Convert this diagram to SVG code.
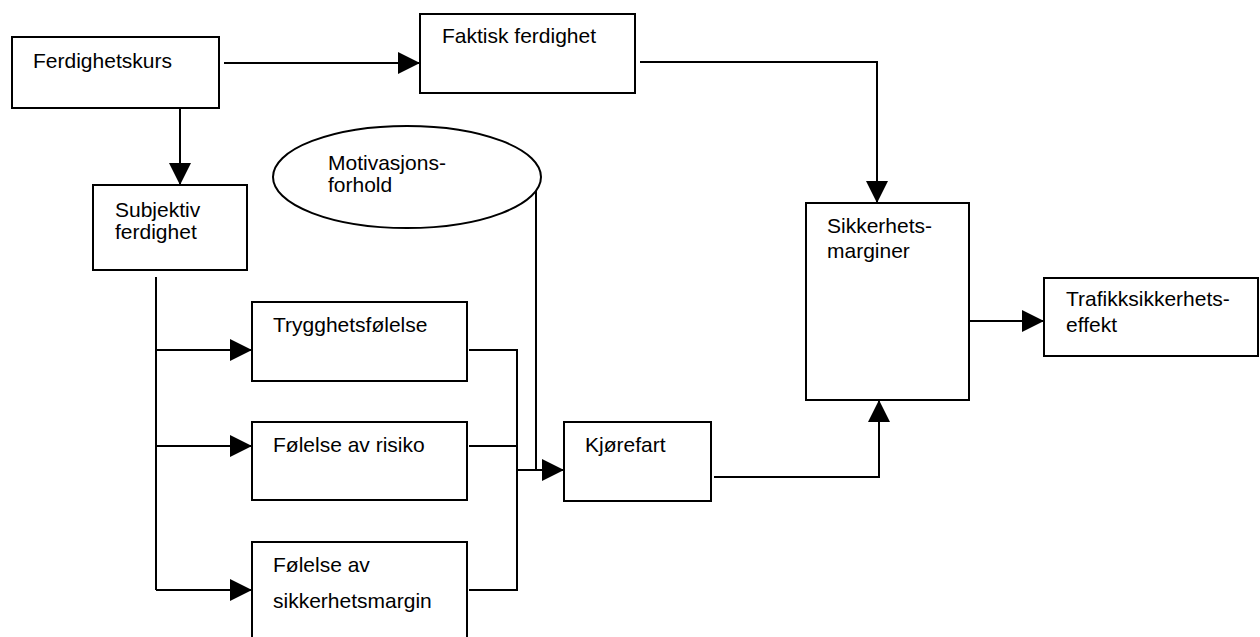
<svg xmlns="http://www.w3.org/2000/svg" width="1260" height="637" viewBox="0 0 1260 637">
<style>
.box{fill:#fff;stroke:#000;stroke-width:2}
.t{font-family:"Liberation Sans",Arial,sans-serif;font-size:21px;fill:#000}
.c{fill:none;stroke:#000;stroke-width:2}
</style>
<defs>
<marker id="ah" viewBox="0 0 22 22" refX="22" refY="11" markerWidth="22" markerHeight="22" markerUnits="userSpaceOnUse" orient="auto">
<path d="M0,0 L22,11 L0,22 Z" fill="#000"/>
</marker>
</defs>
<rect width="1260" height="637" fill="#fff"/>
<g id="connectors">
<path class="c" d="M224,63 H420" marker-end="url(#ah)"/>
<path class="c" d="M180,108 V185" marker-end="url(#ah)"/>
<path class="c" d="M640,62 H877 V203" marker-end="url(#ah)"/>
<path class="c" d="M156,277 V590"/>
<path class="c" d="M156,350 H252" marker-end="url(#ah)"/>
<path class="c" d="M156,446 H252" marker-end="url(#ah)"/>
<path class="c" d="M156,590 H252" marker-end="url(#ah)"/>
<path class="c" d="M469,350 H517 V590 H469"/>
<path class="c" d="M469,446 H517"/>
<path class="c" d="M536,188 V470"/>
<path class="c" d="M517,470 H564" marker-end="url(#ah)"/>
<path class="c" d="M714,477 H879 V400" marker-end="url(#ah)"/>
<path class="c" d="M970,321 H1044" marker-end="url(#ah)"/>
</g>
<g id="ferdighetskurs">
<rect class="box" x="12" y="37" width="207" height="71"/>
<text class="t" x="33" y="68">Ferdighetskurs</text>
</g>
<g id="faktisk">
<rect class="box" x="420" y="14" width="215" height="79"/>
<text class="t" x="442" y="43">Faktisk ferdighet</text>
</g>
<g id="motivasjon">
<ellipse class="box" cx="407" cy="177" rx="134" ry="51"/>
<text class="t" x="328" y="170">Motivasjons-</text>
<text class="t" x="328" y="192">forhold</text>
</g>
<g id="subjektiv">
<rect class="box" x="93" y="185" width="154" height="85"/>
<text class="t" x="115" y="217">Subjektiv</text>
<text class="t" x="115" y="239">ferdighet</text>
</g>
<g id="trygghet">
<rect class="box" x="252" y="302" width="215" height="79"/>
<text class="t" x="273" y="332">Trygghetsfølelse</text>
</g>
<g id="risiko">
<rect class="box" x="252" y="422" width="215" height="78"/>
<text class="t" x="273" y="452">Følelse av risiko</text>
</g>
<g id="sikkerhetsmargin">
<rect class="box" x="252" y="542" width="215" height="100"/>
<text class="t" x="273" y="572">Følelse av</text>
<text class="t" x="273" y="608">sikkerhetsmargin</text>
</g>
<g id="kjorefart">
<rect class="box" x="564" y="422" width="147" height="79"/>
<text class="t" x="585" y="452">Kjørefart</text>
</g>
<g id="sikkerhetsmarginer">
<rect class="box" x="806" y="203" width="163" height="197"/>
<text class="t" x="827" y="233">Sikkerhets-</text>
<text class="t" x="827" y="258">marginer</text>
</g>
<g id="trafikk">
<rect class="box" x="1044" y="278" width="214" height="78"/>
<text class="t" x="1066" y="306">Trafikksikkerhets-</text>
<text class="t" x="1066" y="332">effekt</text>
</g>
</svg>
